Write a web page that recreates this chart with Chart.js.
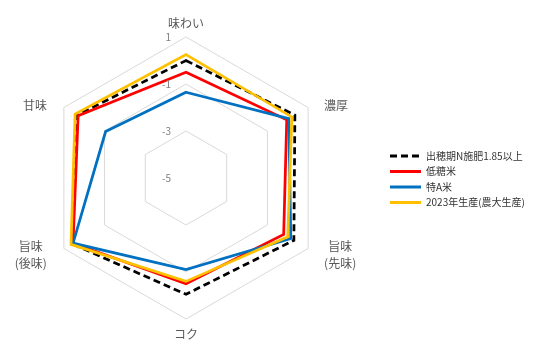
<!DOCTYPE html>
<html>
<head>
<meta charset="utf-8">
<script src="https://cdn.jsdelivr.net/npm/chart.js@4.4.1/dist/chart.umd.min.js"></script>
<style>
  body { margin: 0; background: #fff; }
  #wrap { width: 536px; height: 357px; }
</style>
</head>
<body>
<div id="wrap"><canvas id="radar" width="536" height="357"></canvas></div>
<script>
'use strict';
// axes, clockwise from the top
var categories = ['味わい', '濃厚', ['旨味', '(先味)'], 'コク', ['旨味', '(後味)'], '甘味'];
var seriesNames = ['出穂期N施肥1.85以上', '低糖米', '特A米', '2023年生産(農大生産)'];
var highNValues = [0.0, 0.35, 0.3, -0.05, 0.6, 0.35];
var lowSugarValues = [-0.5, -0.05, -0.2, -0.5, 0.55, 0.3];
var tokuAValues = [-1.35, 0.05, 0.15, -1.1, 0.55, -1.05];
var y2023Values = [0.25, 0.2, 0.0, -0.6, 0.65, 0.45];
var scaleMin = -5, scaleMax = 1, scaleStep = 2;

var jpFont = '"Noto Sans CJK JP", "Noto Sans", sans-serif';

// point labels + tick labels drawn by hand so they sit where excel put them
var labelPlugin = {
  id: 'labelPlugin',
  afterDraw: function(chart) {
    var ctx = chart.ctx;
    var r = chart.scales.r;
    ctx.save();
    // tick labels, a bit left of the vertical axis
    ctx.font = '10px ' + jpFont;
    ctx.fillStyle = '#7f7f7f';
    ctx.textAlign = 'right';
    ctx.textBaseline = 'middle';
    r.ticks.forEach(function(t) {
      var p = r.getPointPositionForValue(0, t.value);
      ctx.fillText(String(t.value), r.xCenter - 15, p.y);
    });
    // category labels
    ctx.font = '12px ' + jpFont;
    ctx.fillStyle = '#595959';
    ctx.textAlign = 'center';
    categories.forEach(function(lab, i) {
      var lines = Array.isArray(lab) ? lab : [lab];
      var v = r.getPointPosition(i, r.drawingArea);
      var w = 0;
      lines.forEach(function(s) { w = Math.max(w, ctx.measureText(s).width); });
      var cx, y0;
      if (i === 0) { cx = v.x; y0 = v.y - 14; }
      else if (i === 3) { cx = v.x; y0 = v.y + 15; }
      else if (i === 1 || i === 2) { cx = v.x + 16 + w / 2; y0 = v.y - 2.5; }
      else { cx = v.x - 17 - w / 2; y0 = v.y - 2.5; }
      lines.forEach(function(s, k) {
        ctx.fillText(s, cx, y0 + k * 17);
      });
    });
    // legend
    ctx.font = '10px ' + jpFont;
    ctx.textAlign = 'left';
    ctx.fillStyle = '#333';
    chart.data.datasets.forEach(function(ds, k) {
      var y = 156 + k * 15.5;
      ctx.beginPath();
      ctx.strokeStyle = ds.borderColor;
      ctx.lineWidth = 3;
      ctx.setLineDash(ds.borderDash || []);
      ctx.moveTo(390, y);
      ctx.lineTo(421, y);
      ctx.stroke();
      ctx.setLineDash([]);
      ctx.fillText(ds.label, 426, y);
    });
    ctx.restore();
  }
};

function displayRadar() {
  var radarctx = document.getElementById('radar').getContext('2d');
  var radarChart = new Chart(radarctx, {
    type: 'radar',
    data: {
      labels: categories,
      datasets: [{
        label: seriesNames[0],
        data: highNValues,
        borderColor: '#000000',
        borderDash: [7, 4],
        order: 4
      }, {
        label: seriesNames[1],
        data: lowSugarValues,
        borderColor: '#ff0000',
        order: 3
      }, {
        label: seriesNames[2],
        data: tokuAValues,
        borderColor: '#0070c0',
        order: 2
      }, {
        label: seriesNames[3],
        data: y2023Values,
        borderColor: '#ffc000',
        order: 1
      }]
    },
    options: {
      responsive: false,
      animation: false,
      devicePixelRatio: 1,
      layout: { padding: { top: 37, bottom: 38, left: 45, right: 209 } },
      elements: {
        line: { borderWidth: 2.75, fill: false, tension: 0, borderJoinStyle: 'miter' },
        point: { radius: 0, hoverRadius: 0 }
      },
      plugins: { legend: { display: false }, tooltip: { enabled: false } },
      scales: {
        r: {
          min: scaleMin,
          max: scaleMax,
          ticks: { stepSize: scaleStep, display: false },
          grid: { color: '#d9d9d9', lineWidth: 1, circular: false },
          angleLines: { display: false },
          pointLabels: { display: false }
        }
      }
    },
    plugins: [labelPlugin]
  });
}
displayRadar();
</script>
</body>
</html>
